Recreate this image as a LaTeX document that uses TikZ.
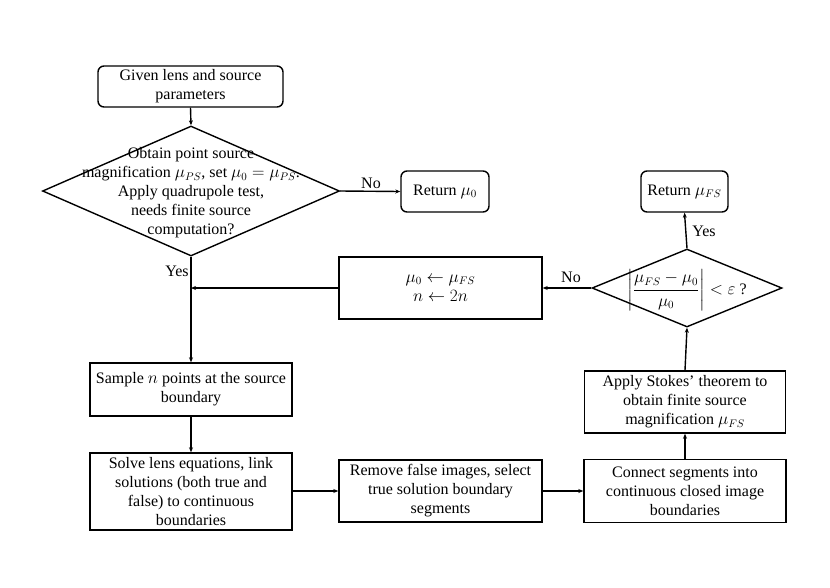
\documentclass[tikz,border=0pt]{standalone}
\usepackage{amsmath}
\usepackage{fontspec}
\setmainfont{Liberation Serif}
\usetikzlibrary{shapes.geometric,arrows.meta}
\begin{document}
\begin{tikzpicture}[x=1pt,y=-1pt,
  every node/.style={font=\fontsize{16}{19}\selectfont},
  base/.style={draw,line width=1.4pt,align=center,inner sep=0pt},
  rbox/.style={base,rounded corners=6pt},
  sbox/.style={base},
  dia/.style={draw,line width=1.4pt,diamond,inner sep=0pt},
  conn/.style={line width=1.4pt,-{Stealth[length=5pt,width=4pt]}},
  lbl/.style={inner sep=1pt}
]
\useasboundingbox (0,0) rectangle (830,587);
\node[rbox,minimum width=185pt,minimum height=41pt] (n1) at (190.5,86.5) {Given lens and source\\parameters};
\node[dia,minimum width=297pt,minimum height=130pt] (d1) at (191,191) {};
\node[align=center] (d1t) at (191,193) {Obtain point source\\magnification $\mu_{PS}$, set $\mu_0=\mu_{PS}$.\\Apply quadrupole test,\\needs finite source\\computation?};
\node[rbox,minimum width=88pt,minimum height=41pt] (r0) at (445,191.5) {Return $\mu_0$};
\node[rbox,minimum width=87pt,minimum height=41pt] (rfs) at (684.5,191.5) {Return $\mu_{FS}$};
\node[dia,minimum width=190pt,minimum height=78pt] (d2) at (687,288) {};
\node (d2t) at (687,290) {$\left|\dfrac{\mu_{FS}-\mu_0}{\mu_0}\right| < \varepsilon$ ?};
\node[sbox,minimum width=203pt,minimum height=62pt] (upd) at (440.5,288) {$\mu_0\leftarrow\mu_{FS}$\\$n\leftarrow 2n$};
\node[sbox,minimum width=202pt,minimum height=53pt] (sample) at (191,389.5) {Sample $n$ points at the source\\boundary};
\node[sbox,minimum width=202pt,minimum height=77pt] (solve) at (191,491.5) {Solve lens equations, link\\solutions (both true and\\false) to continuous\\boundaries};
\node[sbox,minimum width=203pt,minimum height=62pt] (remove) at (440.5,491) {Remove false images, select\\true solution boundary\\segments};
\node[sbox,minimum width=202pt,minimum height=63pt] (connect) at (685,491) {Connect segments into\\continuous closed image\\boundaries};
\node[sbox,minimum width=201pt,minimum height=62pt] (apply) at (685,402) {Apply Stokes’ theorem to\\obtain finite source\\magnification $\mu_{FS}$};
\coordinate (j) at (d1.south |- upd.west);
\draw[conn] (n1.south) -- (d1.north);
\draw[conn] (d1.east) -- (r0.west);
\node[lbl] (no1) at (371,183) {No};
\draw[conn] (d1.south) -- (sample.north);
\node[lbl] (yes1) at (177,271) {Yes};
\draw[conn] (upd.west) -- (j);
\draw[conn] (d2.west) -- (upd.east);
\node[lbl] (no2) at (571,277) {No};
\draw[conn] (d2.north) -- (rfs.south);
\node[lbl] (yes2) at (704,231) {Yes};
\draw[conn] (sample.south) -- (solve.north);
\draw[conn] (solve.east |- remove.west) -- (remove.west);
\draw[conn] (remove.east) -- (connect.west);
\draw[conn] (connect.north) -- (apply.south);
\draw[conn] (apply.north) -- (d2.south);
\end{tikzpicture}
\end{document}
